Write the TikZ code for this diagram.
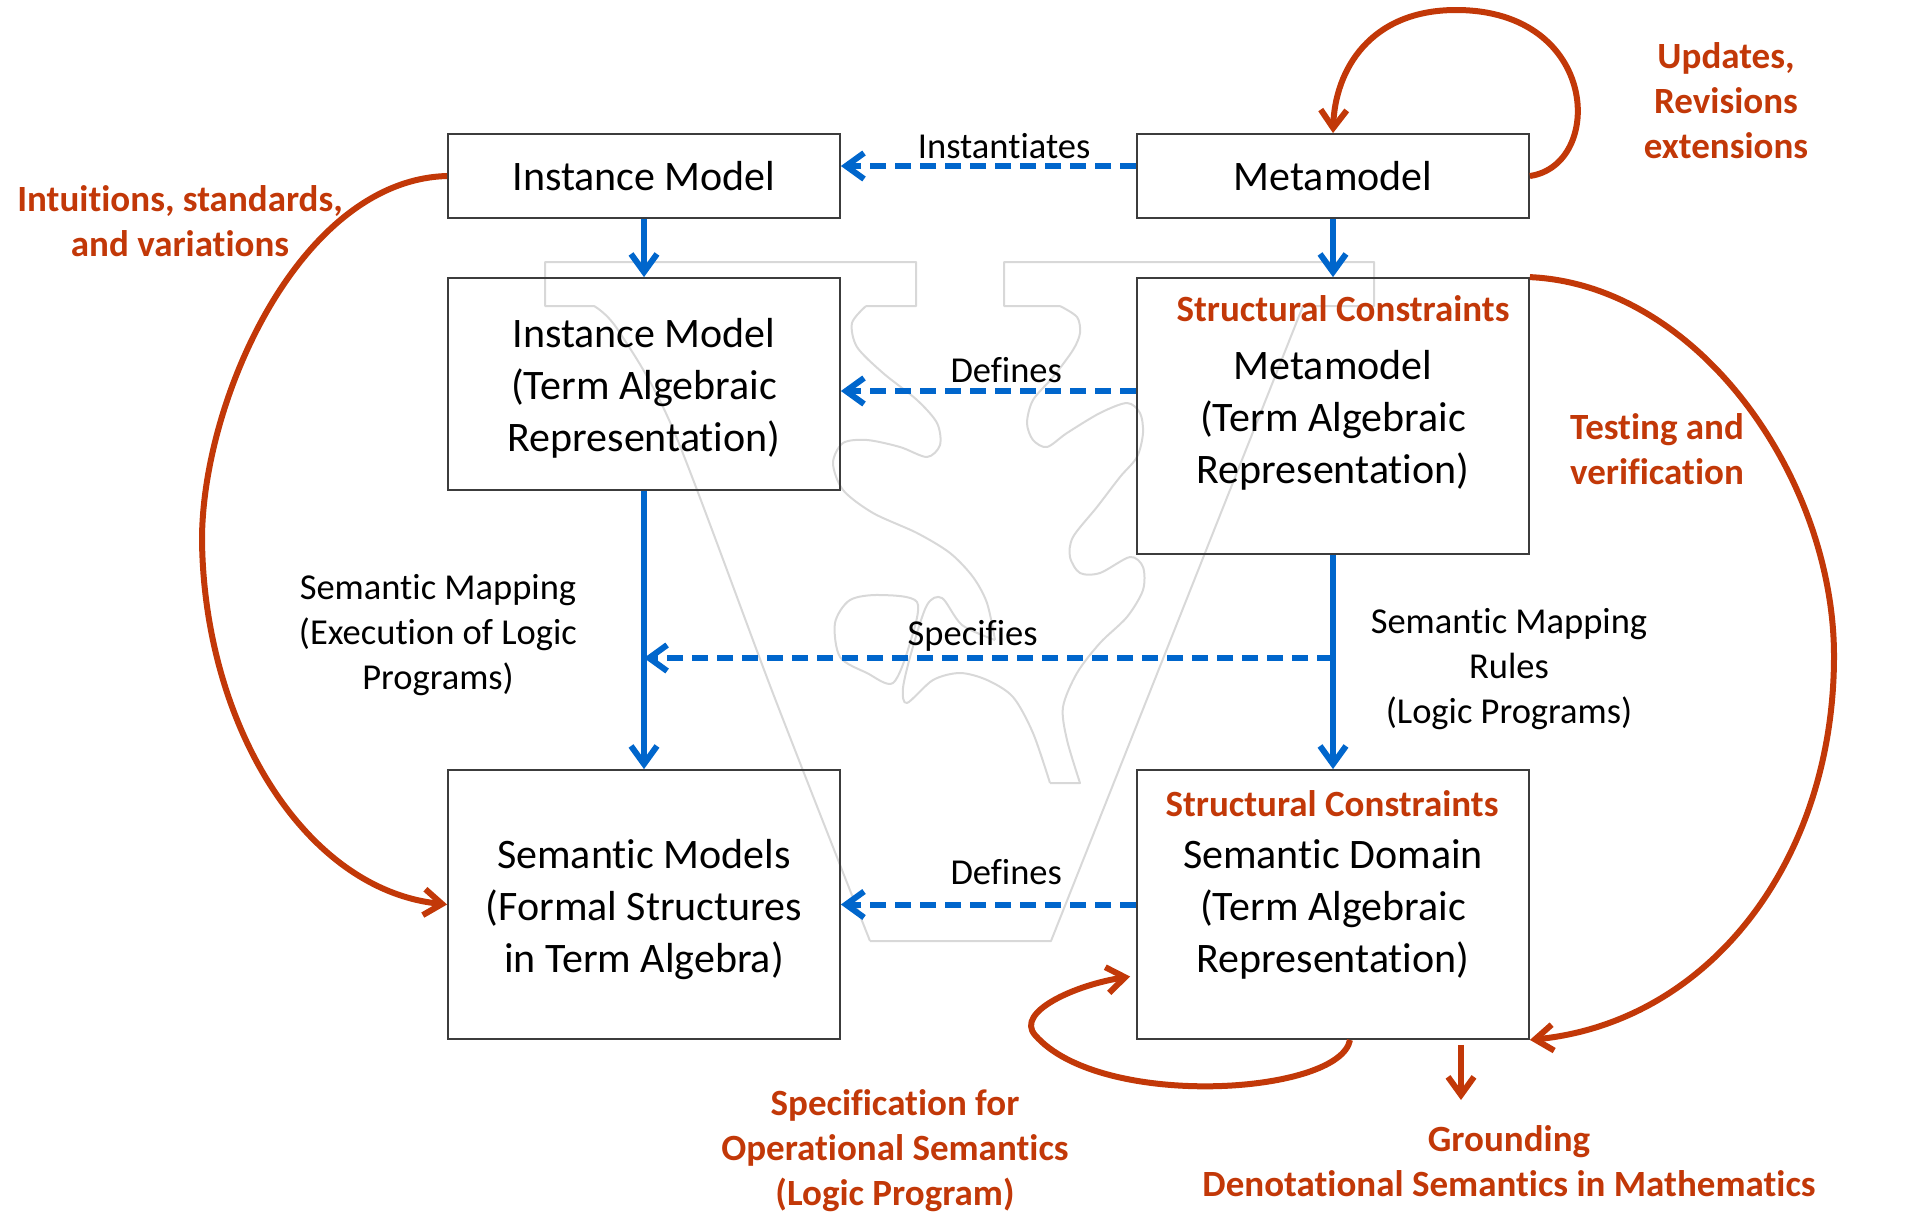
\documentclass[tikz,border=0pt]{standalone}
\usepackage{fontspec}
\setmainfont{Carlito}[Ligatures=NoCommon]
\usetikzlibrary{arrows.meta,calc}

\definecolor{flowblue}{RGB}{0,102,204}
\definecolor{notered}{RGB}{194,56,8}
\definecolor{boxline}{RGB}{60,60,60}
\definecolor{markgray}{RGB}{216,216,216}

\begin{document}
\begin{tikzpicture}[x=1pt,y=-1pt,
  box/.style={draw=boxline,line width=1.8pt,minimum width=392pt,align=center,
    inner sep=0pt,font=\fontsize{42}{52}\selectfont},
  boxtext/.style={align=center,inner sep=0pt,font=\fontsize{42}{52}\selectfont},
  edgelabel/.style={font=\fontsize{36.5}{45}\selectfont,align=center,inner sep=0pt},
  note/.style={font=\fontsize{37}{45}\selectfont\bfseries,text=notered,align=center,inner sep=0pt},
  flow/.style={draw=flowblue,line width=6pt,-{Straight Barb[length=18pt,width=26pt]}},
  flowdash/.style={flow,dash pattern=on 16pt off 9pt},
  feedback/.style={draw=notered,line width=6pt,-{Straight Barb[length=18pt,width=26pt]}},
  wmark/.style={draw=markgray,line width=2pt,line join=round},
]
\useasboundingbox (0,0) rectangle (1915,1213);

% faint emblem in the background
\draw[wmark] plot[smooth,tension=0.5] coordinates {(870,941) (774,696) (673,429) (618,330) (594,306)}
  -- (545,306) -- (545,262) -- (916,262) -- (916,306) -- (866,306);
\draw[wmark] plot[smooth] coordinates {(866,306) (852,323) (857,347) (883,373) (917,400) (937,423)
  (940,445) (927,457) (900,447) (867,440) (843,443) (833,463) (843,490) (873,513) (917,533)
  (950,553) (973,577) (987,603) (995,640)};
\draw[wmark] (870,941) -- (1051,941) -- (1303,306) -- (1374,306) -- (1374,262) -- (1004,262)
  -- (1004,306) -- (1060,306);
\draw[wmark] plot[smooth] coordinates {(1060,306) (1077,317) (1080,333) (1073,350) (1053,377)
  (1033,400) (1027,423) (1033,440) (1047,447) (1067,433) (1100,413) (1127,403) (1140,413)
  (1143,433) (1137,457) (1120,477) (1097,507) (1073,537) (1070,557) (1080,573) (1100,573)
  (1130,557) (1143,567) (1143,590) (1127,617) (1100,643) (1077,673) (1063,707) (1067,740)
  (1080,783)} -- (1050,783);
\draw[wmark] plot[smooth] coordinates {(1050,783) (1033,733) (1013,697) (987,680) (960,673)
  (933,680) (907,703) (903,688) (912,650) (927,605) (942,598) (962,625) (995,640)};
\draw[wmark] plot[smooth cycle] coordinates {(835,623) (850,600) (880,595) (917,602) (910,643)
  (893,683) (867,673) (840,657)};

% boxes
\node[box,minimum height=84pt]  (inst)  at (644,176)    {Instance Model};
\node[box,minimum height=84pt]  (meta)  at (1333,176)   {Metamodel};
\node[box,minimum height=212pt] (instT) at (644,384)    {};
\node[box,minimum height=276pt] (metaT) at (1333,416)   {};
\node[box,minimum height=269pt] (semM)  at (644,904.5)  {};
\node[box,minimum height=269pt] (semD)  at (1333,904.5) {};

% box contents
\node[boxtext] (instTtxt) at ([yshift=-4pt]instT.center) {Instance Model\\(Term Algebraic\\Representation)};
\node[boxtext] (metaTtxt) at ([yshift=-4pt]metaT.center) {Metamodel\\(Term Algebraic\\Representation)};
\node[boxtext] (semMtxt)  at ([yshift=-5pt]semM.center)  {Semantic Models\\(Formal Structures\\in Term Algebra)};
\node[boxtext] (semDtxt)  at ([yshift=-5pt]semD.center)  {Semantic Domain\\(Term Algebraic\\Representation)};
\node[note] (hdrA) at (1343,309) {Structural Constraints};
\node[note] (hdrB) at (1332,804) {Structural Constraints};

% vertical mappings
\draw[flow] (inst) -- (instT);
\draw[flow] (meta) -- (metaT);
\draw[flow] (instT) -- (semM);
\draw[flow] (metaT) -- (semD);

% horizontal relations
\draw[flowdash] ([yshift=10pt]meta.west) -- node[pos=0.447,yshift=19.5pt,edgelabel] {Instantiates} ([yshift=10pt]inst.east);
\draw[flowdash] ([yshift=25pt]metaT.west) -- node[pos=0.44,yshift=21pt,edgelabel] {Defines} ([yshift=-7pt]instT.east);
\coordinate (specR) at (1333,658);
\draw[flowdash] (specR) -- node[pos=0.523,yshift=22pt,edgelabel] {Specifies} (instT.south |- specR);
\draw[flowdash] (semD.west) -- node[pos=0.44,yshift=32pt,edgelabel] {Defines} (semM.east);

\node[edgelabel] (mapL) at (438,635) {Semantic Mapping\\(Execution of Logic\\Programs)};
\node[edgelabel] (mapR) at (1509,669) {Semantic Mapping\\Rules\\(Logic Programs)};

% feedback loops
\draw[feedback] (meta.east) .. controls (1605,165) and (1600,10) .. (1456,10)
  .. controls (1370,10) and (1335,70) .. (meta.north);
\draw[feedback] (metaT.north east) .. controls (1700,285) and (1834,480) .. (1834,656)
  .. controls (1834,860) and (1710,1022) .. (semD.south east);
\draw[feedback] (inst.west) .. controls (300,180) and (202,400) .. (202,540)
  .. controls (204,725) and (305,890) .. (semM.west);
\draw[feedback] ([xshift=17pt]semD.south) .. controls (1340,1095) and (1100,1110) .. (1035,1035)
  .. controls (1015,1012) and (1075,985) .. ([xshift=-6pt,yshift=-72pt]semD.west);
\coordinate (gTip) at (1461,1100);
\draw[feedback] ([xshift=128pt,yshift=-5pt]semD.south) -- (gTip);

% annotations
\node[note] (upd)  at (1726,101) {Updates,\\Revisions\\extensions};
\node[note] (intu) at (180,221)  {Intuitions, standards,\\and variations};
\node[note] (test) at (1657,449) {Testing and\\verification};
\node[note] (spec) at (895,1151) {Specification for\\Operational Semantics\\(Logic Program)};
\node[note] (grnd) at (1509,1161) {Grounding\\Denotational Semantics in Mathematics};
\end{tikzpicture}
\end{document}
